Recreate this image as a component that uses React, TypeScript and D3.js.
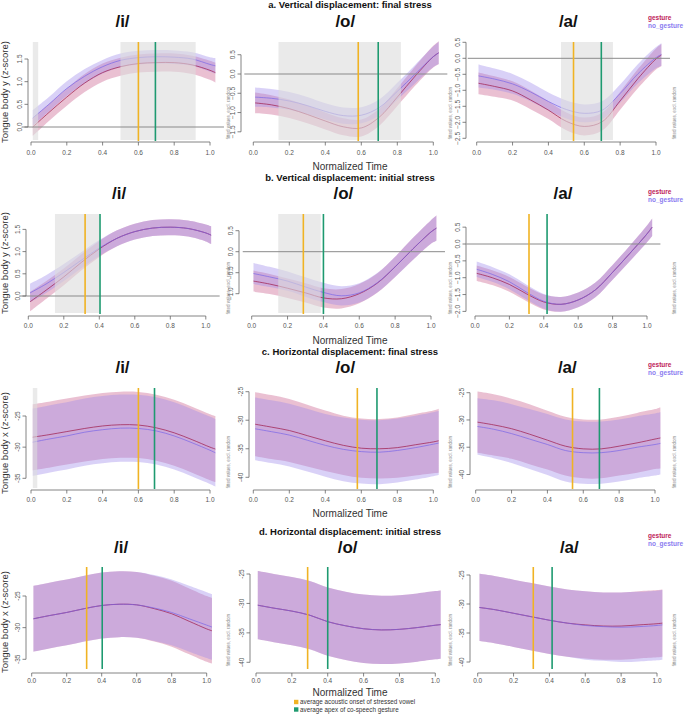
import React from "react";
import * as d3 from "d3";

// ---------- data ----------
const tGrid = [0.01, 0.1, 0.2, 0.3, 0.4, 0.5, 0.6, 0.7, 0.8, 0.9, 1.0, 1.03];
const xTicks = [0, 0.2, 0.4, 0.6, 0.8, 1.0];
const vowels = ["/i/", "/o/", "/a/"];
const rowTitles = [
  "a. Vertical displacement: final stress",
  "b. Vertical displacement: initial stress",
  "c. Horizontal displacement: final stress",
  "d. Horizontal displacement: initial stress",
];
const groupNames = ["gesture", "no_gesture"];
const markerLabels = ["average acoustic onset of stressed vowel", "average apex of co-speech gesture"];
const yAxisTitles = ["Tongue body y (z-score)", "Tongue body y (z-score)", "Tongue body x (z-score)", "Tongue body x (z-score)"];
const fittedLabel = "fitted values, excl. random";
const xAxisTitle = "Normalized Time";

// row a
const aI_gesture = [0.0, 0.32, 0.66, 0.97, 1.2, 1.33, 1.4, 1.42, 1.42, 1.37, 1.25, 1.2];
const aI_gestureCI = [0.2, 0.19, 0.19, 0.2, 0.2, 0.2, 0.2, 0.2, 0.2, 0.2, 0.21, 0.22];
const aI_noGesture = [0.2, 0.5, 0.85, 1.12, 1.33, 1.47, 1.53, 1.55, 1.54, 1.5, 1.38, 1.35];
const aI_noGestureCI = [0.17, 0.16, 0.16, 0.16, 0.15, 0.15, 0.15, 0.15, 0.15, 0.15, 0.16, 0.17];
const aO_gesture = [-0.75, -0.8, -0.9, -1.05, -1.22, -1.37, -1.4, -1.12, -0.6, -0.05, 0.45, 0.55];
const aO_gestureCI = [0.27, 0.25, 0.24, 0.23, 0.22, 0.22, 0.22, 0.22, 0.23, 0.25, 0.28, 0.3];
const aO_noGesture = [-0.6, -0.63, -0.7, -0.82, -0.97, -1.08, -1.07, -0.87, -0.45, 0.0, 0.45, 0.55];
const aO_noGestureCI = [0.25, 0.24, 0.23, 0.22, 0.21, 0.21, 0.21, 0.21, 0.22, 0.24, 0.27, 0.29];
const aA_gesture = [-0.78, -0.88, -1.02, -1.3, -1.62, -1.97, -2.13, -1.98, -1.33, -0.63, -0.02, 0.1];
const aA_gestureCI = [0.34, 0.32, 0.3, 0.29, 0.28, 0.28, 0.28, 0.28, 0.28, 0.3, 0.33, 0.35];
const aA_noGesture = [-0.55, -0.65, -0.8, -1.05, -1.35, -1.6, -1.72, -1.62, -1.1, -0.48, 0.02, 0.12];
const aA_noGestureCI = [0.36, 0.33, 0.31, 0.29, 0.28, 0.28, 0.28, 0.28, 0.28, 0.3, 0.33, 0.35];
const onsetRowA = [0.6, 0.583, 0.54];
const apexRowA = [0.695, 0.694, 0.695];
const sigRowA = [[[0.01, 0.04], [0.5, 0.92]], [[0.14, 0.82]], [[0.47, 0.76]]];
const yTicksRowA = [[0, 0.5, 1, 1.5], [0.5, 0, -0.5, -1, -1.5], [0.5, 0, -0.5, -1, -1.5, -2, -2.5]];

// row b
const bI_gesture = [-0.13, 0.13, 0.43, 0.76, 1.06, 1.3, 1.45, 1.53, 1.55, 1.52, 1.42, 1.37];
const bI_gestureCI = [0.22, 0.2, 0.19, 0.18, 0.18, 0.18, 0.18, 0.18, 0.18, 0.18, 0.19, 0.2];
const bI_noGesture = [0.07, 0.27, 0.53, 0.81, 1.08, 1.3, 1.45, 1.53, 1.55, 1.52, 1.42, 1.37];
const bI_noGestureCI = [0.21, 0.2, 0.19, 0.18, 0.18, 0.18, 0.18, 0.18, 0.18, 0.18, 0.19, 0.2];
const bO_gesture = [-0.7, -0.77, -0.87, -0.98, -1.1, -1.12, -1.0, -0.75, -0.36, 0.07, 0.47, 0.56];
const bO_gestureCI = [0.25, 0.24, 0.23, 0.23, 0.23, 0.23, 0.23, 0.23, 0.24, 0.26, 0.28, 0.3];
const bO_noGesture = [-0.52, -0.6, -0.7, -0.84, -0.97, -1.05, -0.98, -0.74, -0.36, 0.07, 0.47, 0.56];
const bO_noGestureCI = [0.25, 0.24, 0.23, 0.23, 0.23, 0.23, 0.23, 0.23, 0.24, 0.26, 0.28, 0.3];
const bA_gesture = [-0.87, -1.0, -1.2, -1.48, -1.72, -1.79, -1.66, -1.36, -0.84, -0.28, 0.3, 0.5];
const bA_gestureCI = [0.23, 0.22, 0.22, 0.22, 0.22, 0.22, 0.22, 0.22, 0.22, 0.23, 0.25, 0.26];
const bA_noGesture = [-0.75, -0.9, -1.12, -1.43, -1.7, -1.79, -1.66, -1.36, -0.84, -0.28, 0.3, 0.5];
const bA_noGestureCI = [0.23, 0.22, 0.22, 0.22, 0.22, 0.22, 0.22, 0.22, 0.22, 0.23, 0.25, 0.26];
const onsetRowB = [0.32, 0.288, 0.314];
const apexRowB = [0.404, 0.4, 0.419];
const sigRowB = [[[0.15, 0.4]], [[0.148, 0.385]], []];
const yTicksRowB = [[0, 0.5, 1, 1.5], [0.5, 0, -0.5, -1], [0.5, 0, -0.5, -1, -1.5, -2]];

// row c
const cI_gesture = [-28.4, -28.0, -27.5, -27.0, -26.6, -26.4, -26.45, -26.9, -27.7, -28.8, -30.0, -30.3];
const cI_gestureCI = [5.3, 5.3, 5.3, 5.3, 5.3, 5.3, 5.3, 5.3, 5.3, 5.3, 5.3, 5.3];
const cI_noGesture = [-29.2, -28.7, -28.2, -27.6, -27.2, -26.95, -27.0, -27.4, -28.2, -29.3, -30.5, -30.9];
const cI_noGestureCI = [5.4, 5.4, 5.4, 5.4, 5.4, 5.4, 5.4, 5.4, 5.4, 5.4, 5.4, 5.4];
const cO_gesture = [-30.7, -31.2, -31.8, -32.7, -33.6, -34.4, -34.9, -35.0, -34.8, -34.3, -33.8, -33.6];
const cO_gestureCI = [5.6, 5.6, 5.5, 5.4, 5.3, 5.2, 5.2, 5.2, 5.3, 5.4, 5.5, 5.6];
const cO_noGesture = [-31.5, -32.0, -32.6, -33.5, -34.4, -35.1, -35.5, -35.6, -35.3, -34.8, -34.2, -34.0];
const cO_noGestureCI = [5.5, 5.5, 5.5, 5.5, 5.5, 5.6, 5.6, 5.6, 5.6, 5.6, 5.6, 5.6];
const cA_gesture = [-30.4, -30.9, -31.6, -32.6, -33.7, -34.8, -35.3, -35.3, -34.8, -34.2, -33.5, -33.3];
const cA_gestureCI = [5.6, 5.6, 5.5, 5.5, 5.4, 5.4, 5.4, 5.4, 5.4, 5.5, 5.5, 5.6];
const cA_noGesture = [-31.2, -31.7, -32.5, -33.5, -34.5, -35.6, -36.0, -36.0, -35.6, -35.0, -34.5, -34.3];
const cA_noGestureCI = [5.2, 5.3, 5.4, 5.5, 5.6, 5.7, 5.7, 5.7, 5.7, 5.7, 5.7, 5.7];
const onsetRowC = [0.6, 0.578, 0.54];
const apexRowC = [0.69, 0.687, 0.69];
const sigRowC = [[[0.01, 0.035]], [], []];
const yTicksRowC = [[-25, -30, -35], [-25, -30, -35, -40], [-25, -30, -35, -40]];

// row d
const dI_gesture = [-28.6, -28.1, -27.6, -27.0, -26.5, -26.3, -26.4, -27.0, -27.8, -29.0, -30.2, -30.5];
const dI_gestureCI = [5.2, 5.2, 5.2, 5.2, 5.2, 5.2, 5.2, 5.2, 5.2, 5.2, 5.2, 5.2];
const dI_noGesture = [-28.6, -28.1, -27.6, -27.0, -26.5, -26.3, -26.4, -26.9, -27.6, -28.6, -29.6, -29.9];
const dI_noGestureCI = [5.2, 5.2, 5.2, 5.2, 5.2, 5.2, 5.2, 5.2, 5.2, 5.2, 5.2, 5.2];
const dO_gesture = [-30.3, -30.8, -31.3, -32.0, -33.1, -33.8, -34.3, -34.5, -34.4, -34.1, -33.7, -33.6];
const dO_gestureCI = [5.8, 5.8, 5.8, 5.8, 5.8, 5.8, 5.8, 5.8, 5.8, 5.8, 5.8, 5.8];
const dO_noGesture = [-30.3, -30.8, -31.3, -32.0, -33.1, -33.8, -34.3, -34.5, -34.4, -34.1, -33.7, -33.6];
const dO_noGestureCI = [5.8, 5.8, 5.8, 5.8, 5.8, 5.8, 5.8, 5.8, 5.8, 5.8, 5.8, 5.8];
const dA_gesture = [-30.6, -31.0, -31.6, -32.2, -32.8, -33.3, -33.6, -33.8, -33.8, -33.6, -33.4, -33.3];
const dA_gestureCI = [5.8, 5.8, 5.8, 5.8, 5.8, 5.8, 5.8, 5.8, 5.8, 5.8, 5.8, 5.8];
const dA_noGesture = [-30.6, -31.0, -31.6, -32.2, -32.8, -33.3, -33.7, -33.9, -34.0, -33.9, -33.7, -33.6];
const dA_noGestureCI = [5.8, 5.8, 5.8, 5.8, 5.8, 5.8, 5.9, 5.9, 6.0, 6.0, 6.0, 6.0];
const onsetRowD = [0.314, 0.288, 0.31];
const apexRowD = [0.403, 0.4, 0.415];
const sigRowD = [[], [], []];
const yTicksRowD = [[-25, -30, -35], [-25, -30, -35, -40], [-25, -30, -35, -40]];

// ---------- assembled tables ----------
const rowSeries = [
  [[aI_gesture, aI_gestureCI, aI_noGesture, aI_noGestureCI], [aO_gesture, aO_gestureCI, aO_noGesture, aO_noGestureCI], [aA_gesture, aA_gestureCI, aA_noGesture, aA_noGestureCI]],
  [[bI_gesture, bI_gestureCI, bI_noGesture, bI_noGestureCI], [bO_gesture, bO_gestureCI, bO_noGesture, bO_noGestureCI], [bA_gesture, bA_gestureCI, bA_noGesture, bA_noGestureCI]],
  [[cI_gesture, cI_gestureCI, cI_noGesture, cI_noGestureCI], [cO_gesture, cO_gestureCI, cO_noGesture, cO_noGestureCI], [cA_gesture, cA_gestureCI, cA_noGesture, cA_noGestureCI]],
  [[dI_gesture, dI_gestureCI, dI_noGesture, dI_noGestureCI], [dO_gesture, dO_gestureCI, dO_noGesture, dO_noGestureCI], [dA_gesture, dA_gestureCI, dA_noGesture, dA_noGestureCI]],
];
const rowOnset = [onsetRowA, onsetRowB, onsetRowC, onsetRowD];
const rowApex = [apexRowA, apexRowB, apexRowC, apexRowD];
const rowSig = [sigRowA, sigRowB, sigRowC, sigRowD];
const rowYTicks = [yTicksRowA, yTicksRowB, yTicksRowC, yTicksRowD];
const rowZeroLine = [true, true, false, false];

// ---------- layout (pixels) ----------
const LAYOUT = [
  {
    titleY: 5, panelTitleY: 21, legY: 18, plotTop: 42, plotBot: 140, xAxisY: 142, xLabY: 153, ntY: 166, ylabY: 92, fittedY: 113,
    panels: [
      { x: [31, 210], yAxisX: 28, yv: [0, 1.5], yp: [127, 59] },
      { x: [253.3, 433.3], yAxisX: 241, yv: [0, -1.5], yp: [74, 131.8] },
      { x: [476.7, 656], yAxisX: 466, yv: [0, -2.5], yp: [58.3, 138.3] },
    ],
  },
  {
    titleY: 178, panelTitleY: 193, legY: 191.7, plotTop: 214, plotBot: 313, xAxisY: 316, xLabY: 326, ntY: 340, ylabY: 263, fittedY: 288,
    panels: [
      { x: [28.3, 205.8], yAxisX: 26, yv: [0, 1.5], yp: [296, 229.4] },
      { x: [251.7, 431], yAxisX: 239, yv: [0, -1], yp: [251.7, 293.7] },
      { x: [475, 647], yAxisX: 466, yv: [0, -2], yp: [244, 311.4] },
    ],
  },
  {
    titleY: 352, panelTitleY: 367, legY: 365, plotTop: 388, plotBot: 488, xAxisY: 490, xLabY: 500, ntY: 513, ylabY: 443, fittedY: 462,
    panels: [
      { x: [31, 210], yAxisX: 26, yv: [-25, -35], yp: [416, 478.3] },
      { x: [253.3, 433.3], yAxisX: 249, yv: [-25, -40], yp: [391.7, 477.3] },
      { x: [475.7, 655], yAxisX: 470, yv: [-25, -40], yp: [392.7, 474.5] },
    ],
  },
  {
    titleY: 532, panelTitleY: 547, legY: 536, plotTop: 567, plotBot: 668, xAxisY: 673, xLabY: 681, ntY: 692, ylabY: 622, fittedY: 640,
    panels: [
      { x: [31.7, 206.7], yAxisX: 26, yv: [-25, -35], yp: [596, 659.3] },
      { x: [256, 435.3], yAxisX: 250, yv: [-25, -40], yp: [574, 662.3] },
      { x: [477.7, 657], yAxisX: 470, yv: [-25, -40], yp: [575, 662] },
    ],
  },
];

const FONT = "'Liberation Sans', Arial, Helvetica, sans-serif";
const COL = {
  gestureFill: "#bb2f6b",
  gestureLine: "#9e1848",
  noFill: "#9b87eb",
  noLine: "#7a66e6",
  sig: "#dcdcdc",
  onset: "#f0b323",
  apex: "#1e9a70",
  axis: "#666",
  tick: "#555",
  zero: "#8a8a8a",
  legGesture: "#c0245a",
  legNo: "#8b7cf0",
};

function Panel({ row, col }: { row: number; col: number }) {
  const L = LAYOUT[row];
  const P = L.panels[col];
  const x = d3.scaleLinear().domain([0, 1]).range(P.x);
  const y = d3.scaleLinear().domain(P.yv).range(P.yp);
  const [g, gci, n, nci] = rowSeries[row][col];
  const area = (m: number[], ci: number[]) =>
    d3
      .area<number>()
      .x((_, i) => x(tGrid[i]))
      .y0((_, i) => y(m[i] - ci[i]))
      .y1((_, i) => y(m[i] + ci[i]))
      .curve(d3.curveCatmullRom.alpha(0.5))(m) as string;
  const line = (m: number[]) =>
    d3
      .line<number>()
      .x((_, i) => x(tGrid[i]))
      .y((v) => y(v))
      .curve(d3.curveCatmullRom.alpha(0.5))(m) as string;
  const yTicks = rowYTicks[row][col];
  const yExt = d3.extent(yTicks) as [number, number];
  const sig = rowSig[row][col];
  const regionL = x(-0.05);
  const regionR = x(1.078);
  const tickFs = 6.5;
  return (
    <g>
      {/* CI bands */}
      <path d={area(g, gci)} fill={COL.gestureFill} fillOpacity={0.3} />
      <path d={area(n, nci)} fill={COL.noFill} fillOpacity={0.38} />
      <path d={line(g)} fill="none" stroke={COL.gestureLine} strokeWidth={0.7} />
      <path d={line(n)} fill="none" stroke={COL.noLine} strokeWidth={0.7} />
      {/* significance regions */}
      {sig.map((s, i) => (
        <rect key={i} x={x(s[0])} y={L.plotTop} width={x(s[1]) - x(s[0])} height={L.plotBot - L.plotTop} fill={COL.sig} fillOpacity={0.6} />
      ))}
      {rowZeroLine[row] && <line x1={regionL} x2={regionR} y1={y(0)} y2={y(0)} stroke={COL.zero} strokeWidth={1} />}
      {/* markers */}
      <line x1={x(rowOnset[row][col])} x2={x(rowOnset[row][col])} y1={L.plotTop} y2={L.plotBot + 1} stroke={COL.onset} strokeWidth={1.6} />
      <line x1={x(rowApex[row][col])} x2={x(rowApex[row][col])} y1={L.plotTop} y2={L.plotBot + 1} stroke={COL.apex} strokeWidth={1.6} />
      {/* x axis */}
      <line x1={x(0)} x2={x(1)} y1={L.xAxisY} y2={L.xAxisY} stroke={COL.axis} strokeWidth={0.8} />
      {xTicks.map((t) => (
        <g key={t}>
          <line x1={x(t)} x2={x(t)} y1={L.xAxisY} y2={L.xAxisY + 3.5} stroke={COL.axis} strokeWidth={0.8} />
          <text x={x(t)} y={L.xLabY} dy="0.35em" textAnchor="middle" fontSize={tickFs} fill={COL.tick} fontFamily={FONT}>
            {d3.format(".1f")(t)}
          </text>
        </g>
      ))}
      {/* y axis */}
      <line x1={P.yAxisX} x2={P.yAxisX} y1={y(yExt[0])} y2={y(yExt[1])} stroke={COL.axis} strokeWidth={0.8} />
      {yTicks.map((t) => (
        <g key={t}>
          <line x1={P.yAxisX - 3.5} x2={P.yAxisX} y1={y(t)} y2={y(t)} stroke={COL.axis} strokeWidth={0.8} />
          <text transform={`translate(${P.yAxisX - 8},${y(t)}) rotate(-90)`} dy="0.35em" textAnchor="middle" fontSize={tickFs} fill={COL.tick} fontFamily={FONT}>
            {Number.isInteger(t) && Math.abs(t) >= 10 ? String(t) : d3.format(".1f")(t)}
          </text>
        </g>
      ))}
      {/* panel title */}
      <text x={(x(0) + x(1)) / 2 + 2} y={L.panelTitleY} dy="0.35em" textAnchor="middle" fontSize={17} fontWeight="bold" fill="#111" fontFamily={FONT}>
        {vowels[col]}
      </text>
      {/* tiny y label */}
      {col > 0 && (
        <text transform={`translate(${col === 1 ? 228 : 450},${L.fittedY}) rotate(-90)`} dy="0.35em" textAnchor="middle" fontSize={4.5} fill="#888" fontFamily={FONT}>
          {fittedLabel}
        </text>
      )}
      {col === 2 && (
        <text transform={`translate(674,${L.fittedY}) rotate(-90)`} dy="0.35em" textAnchor="middle" fontSize={4.5} fill="#888" fontFamily={FONT}>
          {fittedLabel}
        </text>
      )}
    </g>
  );
}

export default function App() {
  return (
    <svg width={685} height={716} style={{ position: "absolute", left: 0, top: 0, background: "#fff" }} fontFamily={FONT}>
      <rect width={685} height={716} fill="#fff" />
      {LAYOUT.map((L, r) => (
        <g key={r}>
          <text x={350} y={L.titleY} dy="0.35em" textAnchor="middle" fontSize={9.5} fontWeight="bold" fill="#111">
            {rowTitles[r]}
          </text>
          {[0, 1, 2].map((c) => (
            <Panel key={c} row={r} col={c} />
          ))}
          <text x={350} y={L.ntY} dy="0.35em" textAnchor="middle" fontSize={10} fill="#333">
            {xAxisTitle}
          </text>
          <text transform={`translate(5,${L.ylabY}) rotate(-90)`} dy="0.35em" textAnchor="middle" fontSize={9.5} fill="#333">
            {yAxisTitles[r]}
          </text>
          {groupNames.map((gname, i) => (
            <text key={gname} x={648} y={L.legY + i * 7.7} dy="0.35em" fontSize={6.5} fontWeight="bold" fill={i === 0 ? COL.legGesture : COL.legNo}>
              {gname}
            </text>
          ))}
        </g>
      ))}
      {markerLabels.map((lab, i) => (
        <g key={lab}>
          <rect x={294} y={702 + i * 7.5 - 2.2} width={4.4} height={4.4} fill={i === 0 ? COL.onset : COL.apex} />
          <text x={300} y={702 + i * 7.5} dy="0.35em" fontSize={6.3} fill="#333">
            {lab}
          </text>
        </g>
      ))}
    </svg>
  );
}
